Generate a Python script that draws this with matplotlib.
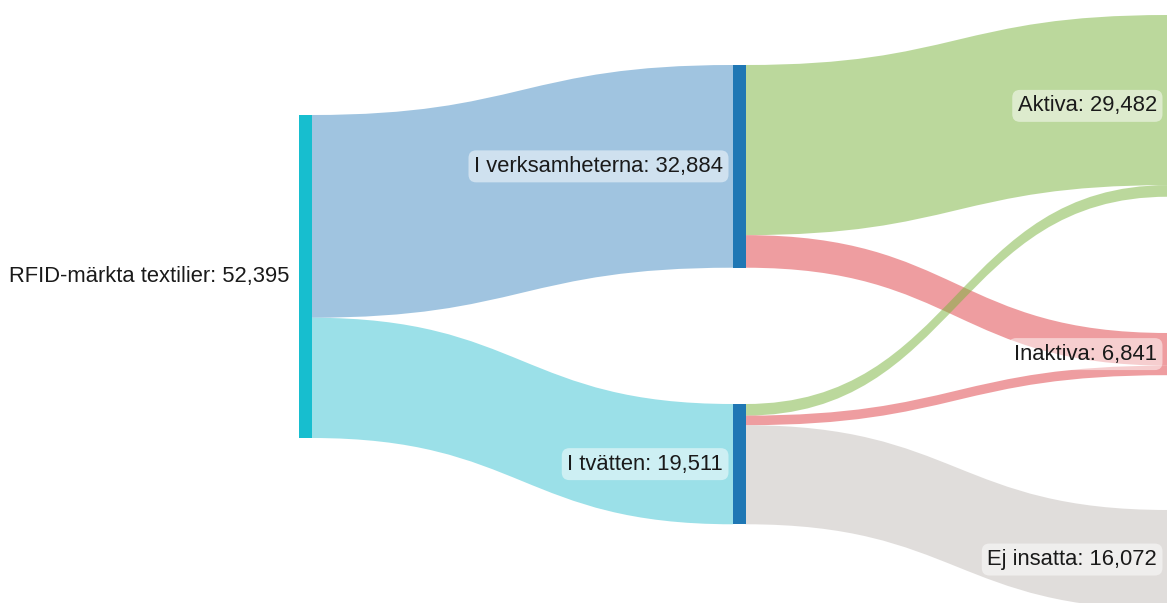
import matplotlib.pyplot as plt
from matplotlib.path import Path
from matplotlib.patches import PathPatch, Rectangle

# node names and totals
nodes = ["RFID-märkta textilier", "I verksamheterna", "I tvätten",
         "Aktiva", "Inaktiva", "Ej insatta"]
totals = [52395, 32884, 19511, 29482, 6841, 16072]

# links (source index, target index, value)
link_src = [0, 0, 1, 1, 2, 2, 2]
link_tgt = [1, 2, 3, 4, 3, 4, 5]
link_val = [32884, 19511, 27600, 5284, 1882, 1557, 16072]

# layout (pixels, y down)
W, H = 1167, 603
node_x = [299, 733, 733, 1168, 1168, 1168]
node_top = [115, 65, 404, 15, 333, 510]
node_w = 12.5
scale = 323 / 52395  # px per item

node_col = ["#17becf", "#1f77b4", "#1f77b4", "#2ca02c", "#d62728", "#8c8c8c"]
link_col = {
    (0, 1): (0.38, 0.62, 0.80, 0.6),
    (0, 2): (0.35, 0.80, 0.85, 0.6),
    3: (0.47, 0.70, 0.23, 0.5),
    4: (0.87, 0.24, 0.26, 0.5),
    5: (0.80, 0.78, 0.77, 0.6),
}

fig = plt.figure(figsize=(W / 100, H / 100), dpi=100)
ax = fig.add_axes([0, 0, 1, 1])
ax.set_xlim(0, W)
ax.set_ylim(H, 0)
ax.axis("off")

out_off = [0.0] * len(nodes)
in_off = [0.0] * len(nodes)

for s, t, v in zip(link_src, link_tgt, link_val):
    h = v * scale
    x0 = node_x[s] + node_w
    x1 = node_x[t]
    y0 = node_top[s] + out_off[s]
    y1 = node_top[t] + in_off[t]
    out_off[s] += h
    in_off[t] += h
    xm = (x0 + x1) / 2
    verts = [(x0, y0), (xm, y0), (xm, y1), (x1, y1),
             (x1, y1 + h), (xm, y1 + h), (xm, y0 + h), (x0, y0 + h),
             (x0, y0)]
    codes = [Path.MOVETO, Path.CURVE4, Path.CURVE4, Path.CURVE4,
             Path.LINETO, Path.CURVE4, Path.CURVE4, Path.CURVE4,
             Path.CLOSEPOLY]
    col = link_col.get((s, t), link_col.get(t))
    ax.add_patch(PathPatch(Path(verts, codes), facecolor=col,
                           edgecolor="none", zorder=1))

for i, n in enumerate(nodes):
    h = totals[i] * scale
    ax.add_patch(Rectangle((node_x[i], node_top[i]), node_w, h,
                           facecolor=node_col[i], edgecolor="none", zorder=2))
    label = f"{n}: {totals[i]:,}"
    yc = node_top[i] + h / 2
    if i == 0:
        ax.text(node_x[i] - 10, yc, label, ha="right", va="center",
                fontsize=15.8, family="Liberation Sans", color="#1a1a1a",
                zorder=3)
    else:
        tx = node_x[i] - 10 if i < 3 else 1157
        ax.text(tx, yc, label, ha="right", va="center", fontsize=15.8,
                family="Liberation Sans", color="#1a1a1a", zorder=3,
                bbox=dict(boxstyle="round,pad=0.25,rounding_size=0.35",
                          facecolor=(1, 1, 1, 0.5), edgecolor="none"))

fig.savefig("out.png", dpi=100)
